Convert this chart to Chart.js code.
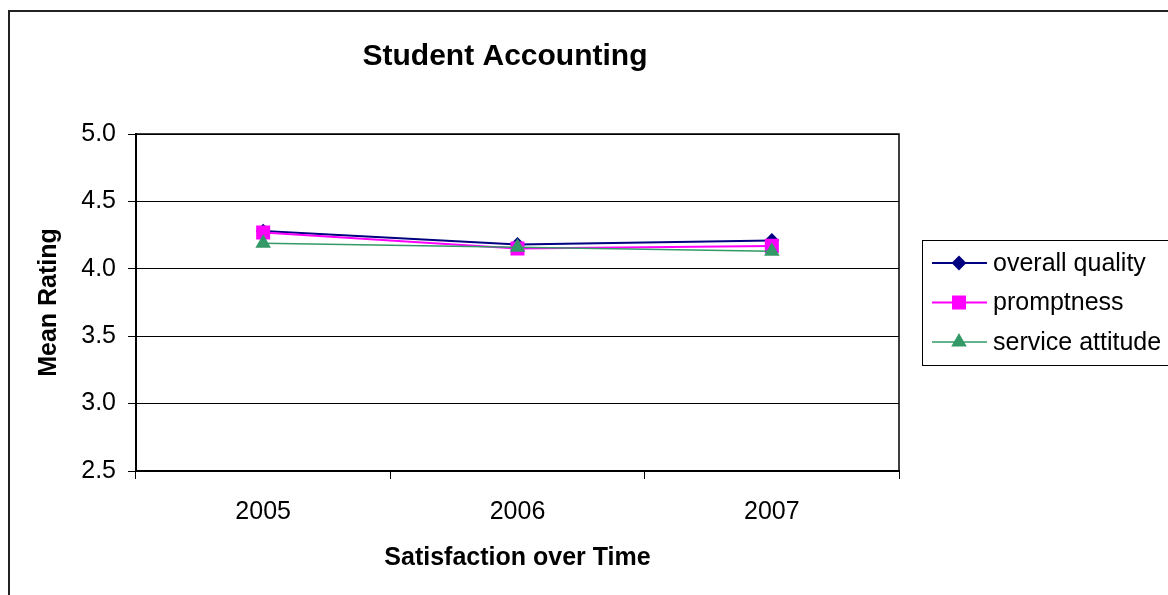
<!DOCTYPE html>
<html>
<head>
<meta charset="utf-8">
<script src="https://cdn.jsdelivr.net/npm/chart.js@4/dist/chart.umd.min.js"></script>
<style>
  body { margin: 0; background: #fff; }
  #wrap { width: 1168px; height: 595px; position: relative; }
</style>
</head>
<body>
<div id="wrap"><canvas id="ctx"></canvas></div>
<script>
const years = ['2005', '2006', '2007'];
const overallQuality = [4.28, 4.18, 4.21];
const promptness = [4.27, 4.15, 4.17];
const serviceAttitude = [4.19, 4.16, 4.13];
const seriesNames = ['overall quality', 'promptness', 'service attitude'];

const FONT = '"Liberation Sans", Arial, sans-serif';
const ctx = document.getElementById('ctx');

// frame, plot box top/right edges and the legend (line + marker + text)
const framePlugin = {
  id: 'frame',
  afterLayout(chart) {
    const t = chart.titleBlock;
    t.left = 0;
    t.right = 1010;
  },
  afterDraw(chart) {
    const c = chart.ctx;
    const a = chart.chartArea;
    c.save();
    c.strokeStyle = '#222';
    c.lineWidth = 2;
    c.strokeRect(9, 11, 1300, 1300);

    c.strokeStyle = '#000';
    c.lineWidth = 1.5;
    c.beginPath();
    c.moveTo(a.left, a.top);
    c.lineTo(a.right, a.top);
    c.lineTo(a.right, a.bottom);
    c.stroke();

    c.lineWidth = 1;
    c.strokeRect(922.5, 240.5, 400, 125);
    chart.data.datasets.forEach((ds, i) => {
      const y = 263 + i * 39.5;
      c.strokeStyle = ds.borderColor;
      c.lineWidth = ds.borderWidth;
      c.beginPath();
      c.moveTo(932, y);
      c.lineTo(987, y);
      c.stroke();
      c.fillStyle = ds.pointBackgroundColor;
      c.strokeStyle = ds.borderColor;
      Chart.helpers.drawPoint(c, {
        pointStyle: ds.pointStyle, radius: ds.pointRadius, borderWidth: 1, rotation: 0
      }, 959, y);
      c.fillStyle = '#000';
      c.font = '25px ' + FONT;
      c.textBaseline = 'middle';
      c.textAlign = 'left';
      c.fillText(ds.label, 993, y + 1);
    });
    c.restore();
  }
};

const chart = new Chart(ctx, {
  type: 'line',
  data: {
    labels: years,
    datasets: [{
      label: seriesNames[0],
      data: overallQuality,
      borderColor: '#000080',
      backgroundColor: '#000080',
      pointBackgroundColor: '#000080',
      pointStyle: 'rectRot',
      pointRadius: 6,
      borderWidth: 2,
      order: 3
    }, {
      label: seriesNames[1],
      data: promptness,
      borderColor: '#FF00FF',
      backgroundColor: '#FF00FF',
      pointBackgroundColor: '#FF00FF',
      pointStyle: 'rect',
      pointRadius: 8.5,
      borderWidth: 2,
      order: 2
    }, {
      label: seriesNames[2],
      data: serviceAttitude,
      borderColor: '#339966',
      backgroundColor: '#339966',
      pointBackgroundColor: '#339966',
      pointStyle: 'triangle',
      pointRadius: 7.5,
      borderWidth: 1.5,
      order: 1
    }]
  },
  options: {
    responsive: true,
    maintainAspectRatio: false,
    animation: false,
    layout: { padding: { left: 0, top: 0, right: 269, bottom: 0 } },
    elements: { line: { tension: 0 }, point: { hoverRadius: 8 } },
    plugins: {
      legend: { display: false },
      tooltip: { enabled: false },
      title: {
        display: true,
        text: 'Student Accounting',
        color: '#000',
        font: { family: FONT, size: 30, weight: 'bold' },
        padding: { top: 39, bottom: 59 }
      }
    },
    scales: {
      x: {
        offset: true,
        grid: { offset: true, drawOnChartArea: false, color: '#000', tickLength: 8 },
        border: { color: '#000', width: 2 },
        ticks: { color: '#000', font: { family: FONT, size: 25 }, padding: 18 },
        title: {
          display: true,
          text: 'Satisfaction over Time',
          color: '#000',
          font: { family: FONT, size: 25, weight: 'bold' },
          padding: { top: 0, bottom: 22 }
        },
        afterFit(scale) { scale.height = 124; }
      },
      y: {
        min: 2.5,
        max: 5.0,
        grid: { color: '#000', tickLength: 8 },
        border: { color: '#000', width: 2 },
        ticks: {
          stepSize: 0.5,
          color: '#000',
          padding: 12,
          font: { family: FONT, size: 25 },
          callback: (v) => Number(v).toFixed(1)
        },
        title: {
          display: true,
          text: 'Mean Rating',
          color: '#000',
          font: { family: FONT, size: 25, weight: 'bold' },
          padding: { top: 34, bottom: 0 }
        },
        afterFit(scale) { scale.width = 136; }
      }
    }
  },
  plugins: [framePlugin]
});
</script>
</body>
</html>
